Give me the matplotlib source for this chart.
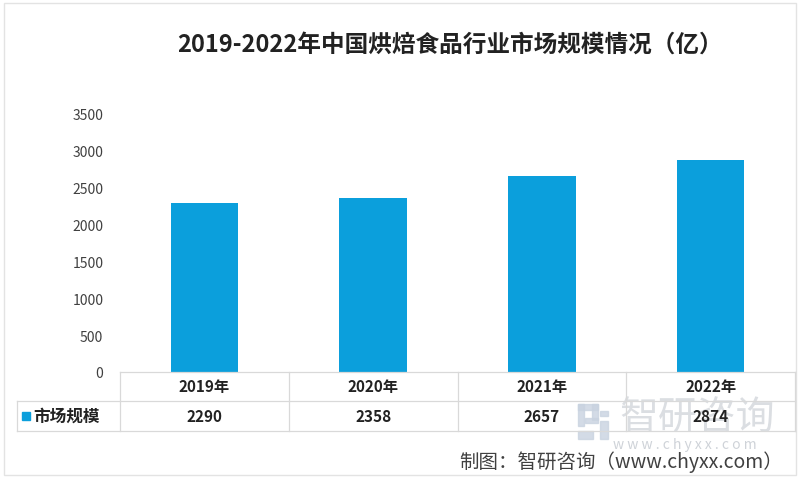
import matplotlib.pyplot as plt
from matplotlib.lines import Line2D
from matplotlib.patches import Rectangle

plt.rcParams['font.family'] = ['Noto Sans CJK SC', 'DejaVu Sans']

years = ['2019年', '2020年', '2021年', '2022年']
market_size = [2290, 2358, 2657, 2874]
series_name = '市场规模'
yticks = [0, 500, 1000, 1500, 2000, 2500, 3000, 3500]

bar_color = '#0b9fdc'
grid_color = '#d9d9d9'
mark_color = '#c3c8cf'

W, H = 800, 481
fig = plt.figure(figsize=(W / 100, H / 100), dpi=100)


def fx(px):
    return px / W


def fy(py):
    return 1 - py / H


# plot area
ax = fig.add_axes([fx(120), fy(373), fx(795) - fx(120), fy(115) - fy(373)])
x = range(len(years))
ax.bar(x, market_size, width=0.4, color=bar_color)
ax.set_xlim(-0.5, len(years) - 0.5)
ax.set_ylim(0, 3500)
ax.set_yticks(yticks)
ax.set_yticklabels([str(t) for t in yticks], fontsize=10, color='#404040')
ax.set_xticks([])
ax.tick_params(axis='y', length=0, pad=12)
for s in ax.spines.values():
    s.set_visible(False)

# title
fig.text(fx(450), fy(45), '2019-2022年中国烘焙食品行业市场规模情况（亿）',
         ha='center', va='center', fontsize=17, fontweight='bold', color='#222222')

# watermark (sits behind the table text)
logo = [(578, 405, 20, 6), (578, 405, 6, 22), (592, 405, 6, 16),
        (585, 419, 13, 5), (600, 412, 8, 5), (600, 422, 8, 18), (578, 432, 15, 8)]
for lx, ly, lw, lh in logo:
    fig.add_artist(Rectangle((fx(lx), fy(ly + lh)), fx(lw), fy(ly) - fy(ly + lh),
                             color='#c9d3e0', alpha=0.8, zorder=0))
fig.text(fx(697), fy(419), '智研咨询', ha='center', va='center',
         fontsize=28, color=mark_color, alpha=0.6, zorder=0)
fig.text(fx(685), fy(445), 'w w w . c h y x x . c o m', ha='center', va='center',
         fontsize=10, color=mark_color, alpha=0.8, zorder=0)

# data table under the axis
col_edges = [120 + i * (795 - 120) / len(years) for i in range(len(years) + 1)]
lines = [
    ([120, 795], [373, 373]),
    ([17, 795], [402, 402]),
    ([17, 795], [432, 432]),
    ([17, 17], [402, 432]),
]
for e in col_edges:
    lines.append(([e, e], [373, 432]))
for xs, ys in lines:
    fig.add_artist(Line2D([fx(v) for v in xs], [fy(v) for v in ys],
                          color=grid_color, lw=0.9))

for i, (yr, val) in enumerate(zip(years, market_size)):
    cx = (col_edges[i] + col_edges[i + 1]) / 2
    fig.text(fx(cx), fy(387.5), yr, ha='center', va='center',
             fontsize=11, fontweight='bold', color='#222222')
    fig.text(fx(cx), fy(417), str(val), ha='center', va='center',
             fontsize=11, fontweight='bold', color='#222222')

fig.add_artist(Rectangle((fx(22), fy(421)), fx(8), fy(413) - fy(421), color=bar_color))
fig.text(fx(33), fy(417), series_name, ha='left', va='center',
         fontsize=12, fontweight='bold', color='#222222')

# source
fig.text(fx(783), fy(462), '制图：智研咨询（www.chyxx.com）', ha='right', va='center',
         fontsize=14, color='#404040')

# outer frame
fig.add_artist(Rectangle((fx(4), fy(476)), fx(792), fy(4) - fy(476), fill=False,
                         edgecolor='#e3e3e3', lw=1))

fig.savefig('out.png', dpi=100)
